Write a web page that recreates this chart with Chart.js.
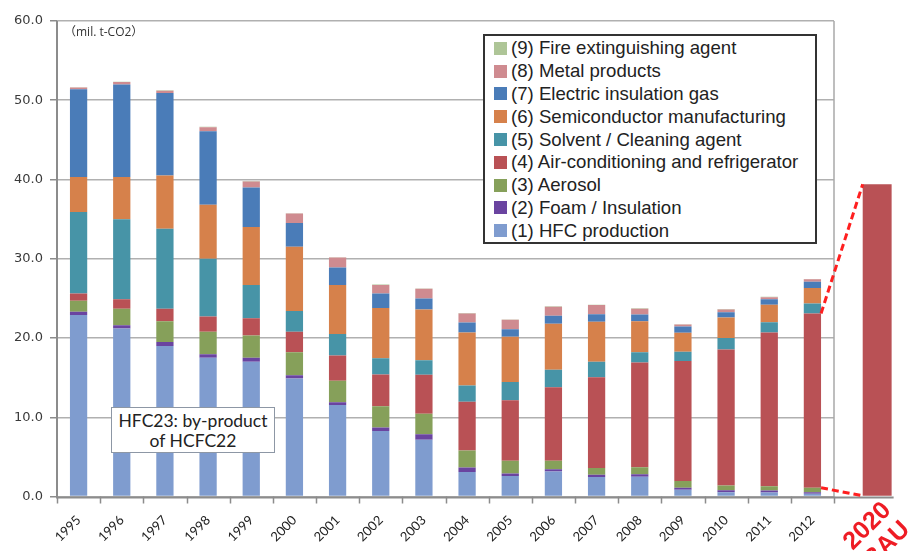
<!DOCTYPE html>
<html>
<head>
<meta charset="utf-8">
<script src="https://cdn.jsdelivr.net/npm/chart.js@4.4.1/dist/chart.umd.min.js"></script>
<style>
  html, body { margin: 0; padding: 0; background: #fff; }
  #wrap { position: relative; width: 908px; height: 551px; overflow: hidden; }
  #chart { position: absolute; left: 0; top: 0; }
  #unit { position: absolute; left: 64px; top: 25px; font: 12px "Open Sans", "Noto Sans CJK JP", sans-serif; line-height: 14px; color: #333; }
  #note { position: absolute; left: 111px; top: 407px; width: 164px; height: 46px; box-sizing: border-box;
          border: 1px solid #8d97a5; background: #fff; padding-top: 3px; text-align: center;
          font: 17.5px Lato, "Open Sans", sans-serif; line-height: 20px; color: #222; }
  #legend { position: absolute; left: 483px; top: 34px; width: 334px; height: 210px; box-sizing: border-box;
            border: 2px solid #333; background: #fff; padding: 1px 0 0 9px;
            font: 18.6px "Liberation Sans", Arial, sans-serif; color: #222; }
  #legend .row { height: 22.8px; display: flex; align-items: center; white-space: nowrap; }
  #legend .sw { width: 13px; height: 13px; margin-right: 4px; flex: none; }
</style>
</head>
<body>
<div id="wrap">
  <canvas id="chart" width="908" height="551"></canvas>
  <div id="unit">（mil. t-CO2）</div>
  <div id="note">HFC23: by-product<br>of HCFC22</div>
  <div id="legend"></div>
</div>
<script>
// values in mil. t-CO2
const years = [1995, 1996, 1997, 1998, 1999, 2000, 2001, 2002, 2003, 2004, 2005, 2006, 2007, 2008, 2009, 2010, 2011, 2012];

const hfcProduction = [22.9, 21.2, 19.0, 17.5, 17.0, 14.9, 11.55, 8.25, 7.15, 3.1, 2.6, 3.15, 2.45, 2.5, 0.85, 0.55, 0.5, 0.35];
const foam          = [0.4, 0.4, 0.5, 0.45, 0.5, 0.4, 0.35, 0.45, 0.7, 0.55, 0.3, 0.3, 0.3, 0.3, 0.25, 0.25, 0.25, 0.2];
const aerosol       = [1.4, 2.1, 2.6, 2.85, 2.8, 2.9, 2.7, 2.7, 2.6, 2.15, 1.6, 1.05, 0.85, 0.9, 0.85, 0.6, 0.55, 0.55];
const airCon        = [0.9, 1.2, 1.6, 1.9, 2.2, 2.6, 3.2, 4.0, 4.9, 6.15, 7.65, 9.3, 11.45, 13.2, 15.15, 17.15, 19.4, 22.0];
const solvent       = [10.3, 10.1, 10.1, 7.3, 4.2, 2.6, 2.7, 2.05, 1.85, 2.05, 2.3, 2.2, 1.95, 1.3, 1.15, 1.45, 1.3, 1.25];
const semiconductor = [4.4, 5.3, 6.7, 6.8, 7.3, 8.1, 6.2, 6.35, 6.4, 6.7, 5.7, 5.8, 5.05, 3.9, 2.4, 2.6, 2.2, 1.95];
const electric      = [11.1, 11.7, 10.4, 9.3, 5.0, 3.0, 2.2, 1.8, 1.4, 1.25, 0.95, 1.0, 0.95, 0.85, 0.8, 0.65, 0.7, 0.8];
const metal         = [0.2, 0.3, 0.3, 0.5, 0.75, 1.2, 1.25, 1.1, 1.2, 1.15, 1.2, 1.15, 1.15, 0.75, 0.25, 0.35, 0.25, 0.3];
const fire          = [0.05, 0.05, 0.05, 0.05, 0.05, 0.05, 0.05, 0.05, 0.05, 0.05, 0.05, 0.05, 0.05, 0.05, 0.05, 0.05, 0.05, 0.05];

const bauLabel = ['2020', 'BAU'];
const bauValue = 39.4;

const seriesNames = [
    '(1) HFC production',
    '(2) Foam / Insulation',
    '(3) Aerosol',
    '(4) Air-conditioning and refrigerator',
    '(5) Solvent / Cleaning agent',
    '(6) Semiconductor manufacturing',
    '(7) Electric insulation gas',
    '(8) Metal products',
    '(9) Fire extinguishing agent'
];
const seriesColors = ['#7f9ccf', '#6a44a0', '#86a05a', '#b95155', '#4794a7', '#d6814b', '#4a7cb8', '#cf8b90', '#aec597'];
const seriesValues = [hfcProduction, foam, aerosol, airCon, solvent, semiconductor, electric, metal, fire];

// the 2020 bar sits one and a half slots past 2012, outside the framed area
const BAU_X = years[years.length - 1] + 1.5;

const datasets = seriesValues.map((vals, i) => ({
    label: seriesNames[i],
    data: years.map((yr, j) => ({ x: yr, y: vals[j] })),
    backgroundColor: seriesColors[i],
    barPercentage: 0.4,
    categoryPercentage: 1
}));
datasets.push({
    label: bauLabel.join(' '),
    data: [{ x: BAU_X, y: bauValue }],
    backgroundColor: seriesColors[3],
    barPercentage: 0.67,
    categoryPercentage: 1,
    clip: false
});

// HTML legend, top entry is (9)
const legendEl = document.getElementById('legend');
for (let i = seriesNames.length - 1; i >= 0; i--) {
    const row = document.createElement('div');
    row.className = 'row';
    const sw = document.createElement('span');
    sw.className = 'sw';
    sw.style.background = seriesColors[i];
    row.appendChild(sw);
    row.appendChild(document.createTextNode(seriesNames[i]));
    legendEl.appendChild(row);
}

// frame, axis lines, tick marks between years, dashed connectors and the red 2020 label
const bauExtras = {
    id: 'bauExtras',
    beforeDatasetsDraw(chart) {
        const ctx = chart.ctx;
        const area = chart.chartArea;
        const xs = chart.scales.x;
        ctx.save();
        ctx.strokeStyle = '#a8a8a8';
        ctx.lineWidth = 1.5;
        ctx.beginPath();
        ctx.moveTo(area.right, area.top);
        ctx.lineTo(area.right, area.bottom);
        ctx.stroke();

        ctx.strokeStyle = '#8c8c8c';
        ctx.beginPath();
        for (let i = 0; i <= years.length; i++) {
            const px = Math.round(xs.getPixelForValue(years[0] - 0.5 + i)) + 0.5;
            ctx.moveTo(px, area.bottom);
            ctx.lineTo(px, area.bottom + 7);
        }
        ctx.stroke();
        ctx.restore();
    },
    afterDatasetsDraw(chart) {
        const ctx = chart.ctx;
        const area = chart.chartArea;
        const last = chart.getDatasetMeta(3).data[years.length - 1];
        const bau = chart.getDatasetMeta(seriesValues.length).data[0];
        const lx = last.x + last.width / 2;
        const bx = bau.x - bau.width / 2;

        ctx.save();
        ctx.strokeStyle = '#8c8c8c';
        ctx.lineWidth = 2;
        ctx.beginPath();
        ctx.moveTo(area.left, area.top);
        ctx.lineTo(area.left, area.bottom + 1);
        ctx.lineTo(bau.x + bau.width / 2 + 2, area.bottom + 1);
        ctx.stroke();

        ctx.strokeStyle = '#ff1f1f';
        ctx.lineWidth = 3;
        ctx.setLineDash([7, 4]);
        ctx.beginPath();
        ctx.moveTo(lx, last.y);
        ctx.lineTo(bx, bau.y);
        ctx.moveTo(lx, last.base);
        ctx.lineTo(bx, bau.base);
        ctx.stroke();

        ctx.setLineDash([]);
        ctx.translate(bau.x + 10, area.bottom + 10);
        ctx.rotate(-Math.PI / 4);
        ctx.font = 'bold 25px "Liberation Sans", Arial, sans-serif';
        ctx.fillStyle = '#ee1c24';
        ctx.textAlign = 'right';
        ctx.textBaseline = 'middle';
        ctx.fillText(bauLabel[0], 0, 0);
        ctx.fillText(bauLabel[1], 0, 27);
        ctx.restore();
    }
};

new Chart(document.getElementById('chart'), {
    type: 'bar',
    data: { datasets },
    options: {
        responsive: false,
        animation: false,
        events: [],
        layout: { padding: { top: 21, right: 74, bottom: 0, left: 0 } },
        plugins: {
            legend: { display: false },
            tooltip: { enabled: false }
        },
        scales: {
            x: {
                type: 'linear',
                stacked: true,
                offset: false,
                min: years[0] - 0.5,
                max: years[years.length - 1] + 0.5,
                afterBuildTicks: s => { s.ticks = years.map(v => ({ value: v })); },
                afterFit: s => { s.height = 54.5; },
                ticks: {
                    autoSkip: false,
                    minRotation: 45,
                    maxRotation: 45,
                    padding: 8,
                    color: '#222',
                    font: { family: 'Lato, "Open Sans", sans-serif', size: 13 },
                    callback: v => String(v)
                },
                grid: { display: false },
                border: { display: false }
            },
            y: {
                stacked: true,
                min: 0,
                max: 60,
                afterFit: s => { s.width = 57; },
                ticks: {
                    stepSize: 10,
                    padding: 7,
                    color: '#3a3a3a',
                    font: { family: '"DejaVu Sans", sans-serif', size: 13 },
                    callback: v => v.toFixed(1)
                },
                grid: { color: '#b0b0b0', lineWidth: 1.5, tickLength: 7, tickColor: '#8c8c8c' },
                border: { display: false }
            }
        }
    },
    plugins: [bauExtras]
});
</script>
</body>
</html>
